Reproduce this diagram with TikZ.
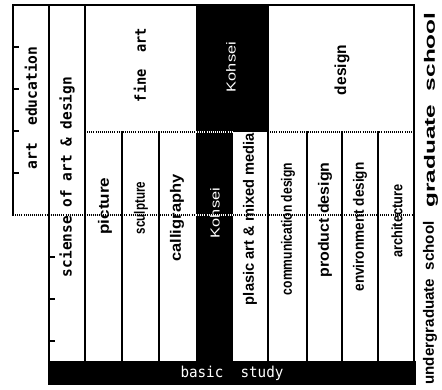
\documentclass[tikz,border=0pt]{standalone}
\usepackage{fontspec}
\usepackage{graphicx}
\newfontfamily\monof{DejaVu Sans Mono}
\newfontfamily\sansf{Liberation Sans}
\newsavebox\fitbox
\newcommand\fitw[2]{\sbox\fitbox{#2}\pgfmathsetmacro\fitf{#1/\the\wd\fitbox}\scalebox{\fitf}[1]{\usebox\fitbox}}
\tikzset{
  frame/.style={line width=1.4pt, line cap=rect},
  dots/.style={line width=1.1pt, dash pattern=on 1pt off 1.1pt},
  wdots/.style={dots, white},
  tick/.style={line width=1.2pt},
  lbl/.style={rotate=90, inner sep=0pt, anchor=center},
  mono/.style={lbl, font=\monof\bfseries\fontsize{15}{15}\selectfont},
  sansb/.style={lbl, font=\sansf\bfseries\fontsize{15}{15}\selectfont},
  kfont/.style={lbl, text=white, font=\sansf\fontsize{13}{13}\selectfont},
}
\begin{document}
\begin{tikzpicture}[x=1pt,y=-1pt]
\useasboundingbox (0,0) rectangle (442,389);
% black blocks
\fill (196,5) rectangle (268,132);
\fill (196,132) rectangle (233,361);
\fill (48,361) rectangle (416,385);
% solid frame lines
\draw[frame] (13,5) -- (414,5);
\draw[frame] (13,5) -- (13,215);
\draw[frame] (49,5) -- (49,361);
\draw[frame] (85,5) -- (85,361);
\draw[frame] (122,132) -- (122,361);
\draw[frame] (159,132) -- (159,361);
\draw[frame] (268,5) -- (268,361);
\draw[frame] (307,132) -- (307,361);
\draw[frame] (342,132) -- (342,361);
\draw[frame] (378,132) -- (378,361);
\draw[frame] (414,5) -- (414,361);
% dotted lines
\draw[dots] (85,132) -- (196,132);
\draw[wdots] (196,132) -- (233,132);
\draw[dots] (268,132) -- (414,132);
\draw[dots] (13,215) -- (196,215);
\draw[wdots] (196,215) -- (233,215);
\draw[dots] (233,215) -- (414,215);
% ticks
\foreach \ty in {47,89,131,173} \draw[tick] (13,\ty) -- (19,\ty);
\foreach \ty in {257,299,341} \draw[tick] (49,\ty) -- (55,\ty);
% labels
\node[mono] (arted) at (31,108) {\fitw{123}{art\ \ education}};
\node[mono] (sci) at (67,177) {\fitw{200}{sciense of art \& design}};
\node[mono] (fine) at (140,65) {\fitw{74}{fine\ \ art}};
\node[kfont] (kohup) at (231,67) {\fitw{50}{Kohsei}};
\node[sansb, font=\sansf\bfseries\fontsize{16}{16}\selectfont] (des) at (342,70) {\fitw{50}{design}};
\node[sansb] (pic) at (105,206) {\fitw{57}{picture}};
\node[sansb] (scu) at (141,208) {\fitw{52}{sculpture}};
\node[sansb] (cal) at (177,218) {\fitw{87}{calligraphy}};
\node[kfont] (kohlo) at (215,213) {\fitw{50}{Kohsei}};
\node[sansb] (pla) at (250,219) {\fitw{172}{plasic art \& mixed media}};
\node[sansb] (com) at (288,229) {\fitw{132}{communication design}};
\node[sansb] (pro) at (325,220) {\fitw{115}{product design}};
\node[sansb] (env) at (360,227) {\fitw{129}{environment design}};
\node[sansb] (arc) at (397,221) {\fitw{73}{architecture}};
\node[inner sep=0pt, text=white, font=\monof\fontsize{15}{15}\selectfont] (basic) at (232,373) {\fitw{103}{basic\ \ study}};
\node[sansb] (grad) at (431,110) {\fitw{195}{graduate\ \ school}};
\node[sansb] (under) at (430,303) {\fitw{163}{undergraduate\ \ school}};
\end{tikzpicture}
\end{document}
